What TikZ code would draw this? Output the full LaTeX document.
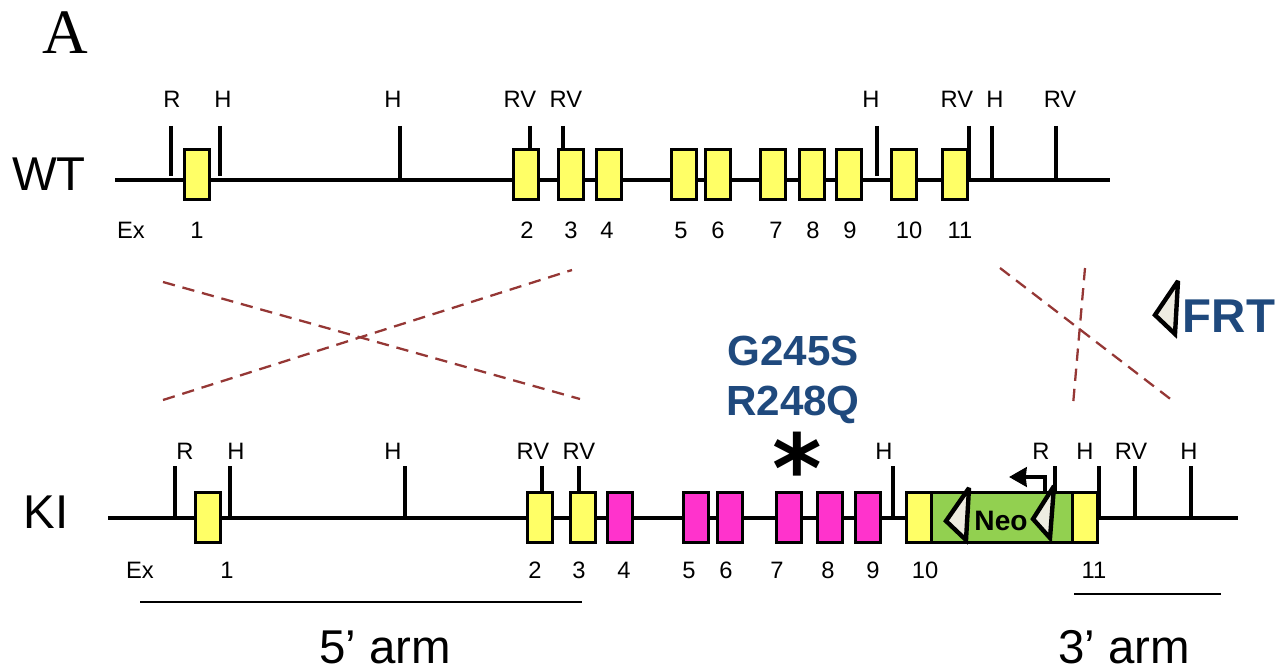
\documentclass[tikz,border=0pt]{standalone}
\usepackage{fontspec}
\usetikzlibrary{arrows.meta}
\setmainfont{Liberation Sans}
\newfontfamily\serifA{Liberation Serif}
\newfontfamily\astfont{DejaVu Sans}
\definecolor{armred}{HTML}{953735}
\definecolor{labelblue}{HTML}{1F497D}
\definecolor{exyellow}{HTML}{FFFF66}
\definecolor{expink}{HTML}{FF33CC}
\definecolor{neogreen}{HTML}{92D050}
\definecolor{frtfill}{HTML}{EEECE1}
\tikzset{
exon/.style={draw=black, line width=1.4pt, minimum width=0.5cm, minimum height=1cm, inner sep=0pt, outer sep=0pt},
site/.style={anchor=base, inner sep=0pt, font=\fontsize{13.5}{13.5}\selectfont},
frt/.style={draw=black, line width=2.5pt, fill=frtfill, miter limit=3},
bone/.style={line width=2pt},
tick/.style={line width=2pt},
arm/.style={armred, dashed, line width=1.3pt, dash pattern=on 7pt off 4.5pt},
big/.style={anchor=base, inner sep=0pt, font=\fontsize{27}{27}\selectfont},
mut/.style={anchor=base, inner sep=0pt, text=labelblue, font=\fontsize{24}{24}\selectfont\bfseries}
}
\begin{document}
\begin{tikzpicture}[x=0.02cm, y=-0.02cm]
\useasboundingbox (0,0) rectangle (1285,669);

\node[anchor=base, inner sep=0pt, font=\fontsize{36}{36}\selectfont\serifA] (panel) at (65,54) {A};
\node[big] (wtname) at (49,191) {WT};
\node[big] (kiname) at (46,528) {KI};

\coordinate (wtleft) at (115,180);
\coordinate (wtright) at (1110,180);
\coordinate (kileft) at (108,518);
\coordinate (kiright) at (1238,518);
\draw[bone] (wtleft) -- (wtright);
\draw[bone] (kileft) -- (kiright);

\foreach \x/\ybot in {171/176, 220/176, 400/180, 530/149, 563/149, 877/176, 969/180, 992/180, 1056/180}{
\draw[tick] (\x,126) -- (\x,\ybot);
}
\foreach \x/\ybot in {175/518, 230/518, 405/518, 542/492, 579/492, 893/518, 1055/492, 1099/518, 1135/518, 1191/518}{
\draw[tick] (\x,466) -- (\x,\ybot);
}

\foreach \n/\x in {1/197, 2/526, 3/571, 4/609, 5/684, 6/718, 7/773, 8/812, 9/849, 10/904, 11/955}{
\node[exon, fill=exyellow] (wtex\n) at (\x,174.5) {};
}
\foreach \n/\x in {1/208, 2/540, 3/583, 10/919}{
\node[exon, fill=exyellow] (kiex\n) at (\x,517.5) {};
}
\foreach \n/\x in {4/620, 5/696, 6/730, 7/789, 8/830, 9/868}{
\node[exon, fill=expink] (kiex\n) at (\x,517.5) {};
}
\node[draw=black, line width=1.4pt, fill=neogreen, minimum width=2.8cm, minimum height=1cm, inner sep=0pt, outer sep=0pt] (neo) at (1002,517.5) {};
\node[exon, fill=exyellow] (kiex11) at (1085,517.5) {};

\foreach \n/\x/\t in {a/172/R, b/223/H, c/393/H, d/520/RV, e/566/RV, f/871/H, g/957/RV, h/995/H, i/1060/RV}{
\node[site] (wtsite\n) at (\x,108) {\t};
}
\foreach \n/\x/\t in {a/185/R, b/236/H, c/393/H, d/533/RV, e/579/RV, f/884/H, g/1041/R, h/1085/H, i/1131/RV, j/1189/H}{
\node[site] (kisite\n) at (\x,459) {\t};
}
\foreach \n/\x/\t in {a/131/Ex, b/197/1, c/527/2, d/571/3, e/607/4, f/681/5, g/718/6, h/776/7, i/813/8, j/850/9, k/909/10, l/960/11}{
\node[site] (wtnum\n) at (\x,238) {\t};
}
\foreach \n/\x/\t in {a/140/Ex, b/227/1, c/535/2, d/579/3, e/624/4, f/689/5, g/726/6, h/777/7, i/828/8, j/873/9, k/925/10, l/1094/11}{
\node[site] (kinum\n) at (\x,578) {\t};
}

\draw[arm] (163,282) -- (580,399);
\draw[arm] (163,400) -- (572,270);
\draw[arm] (1000,268) -- (1173,401);
\draw[arm] (1085,268) -- (1073,405);

\draw[frt] (969,488) -- (946,521) -- (966,540) -- cycle;
\draw[frt] (1054,486) -- (1033,519) -- (1050,538) -- cycle;
\draw[frt] (1178,281) -- (1155,315) -- (1175,334) -- cycle;

\draw[line width=2.3pt, -{Stealth[length=10pt,width=11pt,inset=0.5pt]}] (1045,491) -- (1045,477) -- (1009,477);

\node[anchor=base, inner sep=0pt, font=\fontsize{16}{16}\selectfont\bfseries] (neoname) at (1001,530) {Neo};
\node[mut] (gmut) at (793,365) {G245S};
\node[mut] (rmut) at (793,415) {R248Q};
\node[mut, font=\fontsize{27}{27}\selectfont\bfseries] (frtname) at (1229,332) {FRT};
\node[anchor=base, inner sep=0pt, text=black, font=\fontsize{54}{54}\selectfont\astfont\bfseries] (star) at (797,502) {*};

\coordinate (fivel) at (140,602);
\coordinate (fiver) at (582,602);
\coordinate (threel) at (1074,594);
\coordinate (threer) at (1221,594);
\draw[line width=0.8pt] (fivel) -- (fiver);
\draw[line width=0.8pt] (threel) -- (threer);
\node[big] (fivearm) at (385,663) {5’ arm};
\node[big] (threearm) at (1124,663) {3’ arm};
\end{tikzpicture}
\end{document}
